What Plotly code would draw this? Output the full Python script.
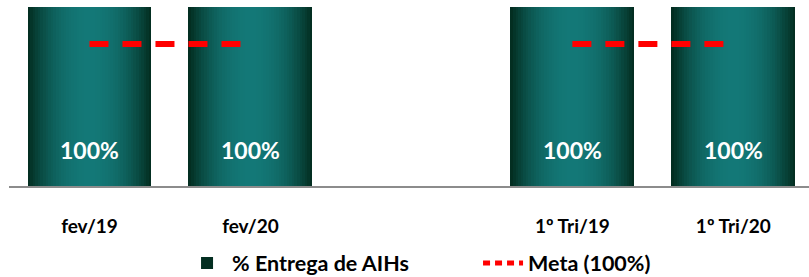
import plotly.graph_objects as go

# ---- data ----
categories = ["fev/19", "fev/20", "1º Tri/19", "1º Tri/20"]
entrega_pct = [100, 100, 100, 100]
meta_pct = [100, 100, 100, 100]
bar_labels = ["100%", "100%", "100%", "100%"]
axis_order = ["fev/19", "fev/20", " ", "1º Tri/19", "1º Tri/20"]
groups = [["fev/19", "fev/20"], ["1º Tri/19", "1º Tri/20"]]

FONT = "Lato, 'Open Sans', sans-serif"

def lerp(c1, c2, t):
    return "#%02x%02x%02x" % tuple(round(a + (b - a) * t) for a, b in zip(c1, c2))

edge = (3, 46, 33)
center = (19, 120, 119)

fig = go.Figure()

# gradient bars made of overlaid bars of decreasing width
N = 24
full_w = 0.77
for i in range(N):
    d = 1 - i / N  # distance from center (1 = edge)
    t = d ** 2.2
    col = lerp(center, edge, t)
    fig.add_trace(go.Bar(
        x=categories, y=entrega_pct,
        width=full_w * d,
        marker=dict(color=col, line=dict(width=0)),
        name="<b>% Entrega de AIHs</b>",
        showlegend=(i == 0),
        legendrank=1,
        hoverinfo="skip" if i else None,
    ))

# meta line (secondary axis)
mx, my = [], []
for g in groups:
    for c in g:
        mx.append(c)
        my.append(meta_pct[categories.index(c)])
    mx.append(None)
    my.append(None)
fig.add_trace(go.Scatter(
    x=mx, y=my, yaxis="y2", mode="lines",
    line=dict(color="#ff0000", width=6, dash="19px,14px"),
    name="Meta (100%)", showlegend=False, connectgaps=False,
))
# legend entry for the meta line (finer dash like the reference legend)
fig.add_trace(go.Scatter(
    x=[None], y=[None], yaxis="y2", mode="lines",
    line=dict(color="#ff0000", width=5, dash="7px,5px"),
    name="<b>Meta (100%)</b>", legendrank=2,
))

for c, v, lab in zip(categories, entrega_pct, bar_labels):
    fig.add_annotation(x=c, y=v * 0.2, text="<b>%s</b>" % lab, showarrow=False,
                       font=dict(family=FONT, size=23, color="white"))

fig.update_layout(
    width=809, height=277,
    margin=dict(l=9, r=0, t=7, b=91, autoexpand=False),
    paper_bgcolor="white", plot_bgcolor="white",
    barmode="overlay", bargap=0,
    font=dict(family=FONT, color="black"),
    xaxis=dict(type="category", categoryorder="array", categoryarray=axis_order,
               range=[-0.5, 4.47], showgrid=False, showline=True,
               linecolor="#8c8c8c", linewidth=2, ticks="",
               tickfont=dict(size=19, family=FONT, color="black"),
               ticklabelstandoff=22, tickvals=categories,
               ticktext=["<b>%s</b>" % c for c in categories]),
    yaxis=dict(range=[0, 100], visible=False, showgrid=False),
    yaxis2=dict(range=[0, 126], overlaying="y", visible=False, showgrid=False),
    legend=dict(orientation="h", x=0.2163, xanchor="left", y=-0.43, yanchor="middle",
                font=dict(size=21.5, family=FONT, color="black"),
                itemwidth=40, entrywidth=241, entrywidthmode="pixels",
                traceorder="normal"),
    showlegend=True,
)

fig.write_html("out.html", config={"displayModeBar": False},
               post_script="document.body.style.margin='0';document.body.style.padding='0';")
